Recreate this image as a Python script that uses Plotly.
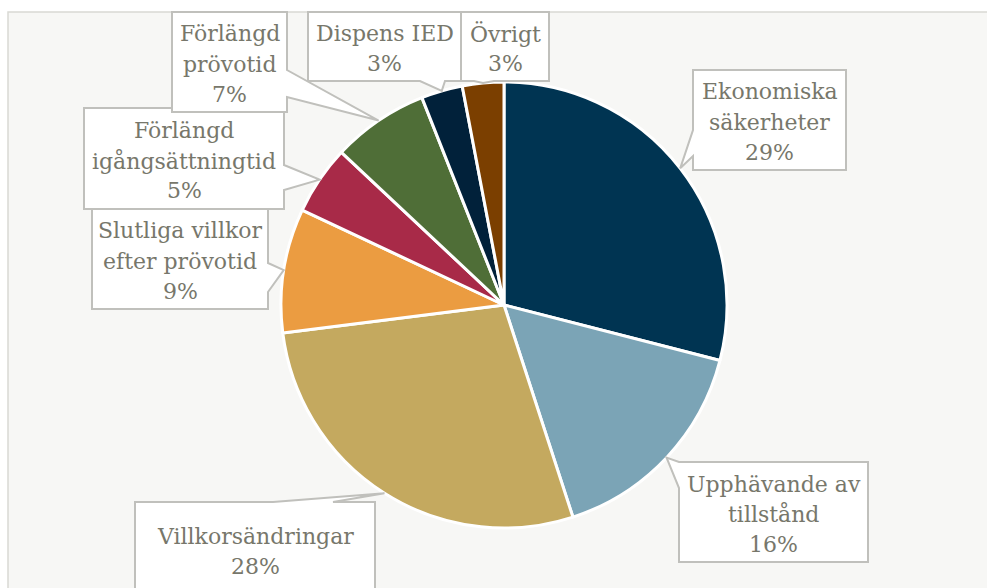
import math
import plotly.graph_objects as go

# ---- data ----
categories = [
    "Ekonomiska säkerheter",
    "Upphävande av tillstånd",
    "Villkorsändringar",
    "Slutliga villkor efter prövotid",
    "Förlängd igångsättningtid",
    "Förlängd prövotid",
    "Dispens IED",
    "Övrigt",
]
values = [29, 16, 28, 9, 5, 7, 3, 3]
label_lines = [
    ["Ekonomiska", "säkerheter"],
    ["Upphävande av", "tillstånd"],
    ["Villkorsändringar"],
    ["Slutliga villkor", "efter prövotid"],
    ["Förlängd", "igångsättningtid"],
    ["Förlängd", "prövotid"],
    ["Dispens IED"],
    ["Övrigt"],
]
colors = ["#003452", "#7ba4b6", "#c4a95f", "#eb9c41", "#a82a48", "#4f6e37", "#01213a", "#7b3f00"]

# ---- layout constants (pixels) ----
W, H = 987, 588
CX, CY, R = 504, 305, 223
# callout boxes: (x0, y0, x1, y1, side, base_a, base_b)
boxes = [
    (693, 70, 846, 170, "left", 130, 156),
    (679, 462, 868, 562, "left", 462, 488),
    (135, 502, 375, 610, "top", 273, 333),
    (92, 209, 268, 309, "right", 263, 292),
    (84, 108, 284, 209, "right", 165, 190),
    (172, 12, 287, 112, "right", 70, 97),
    (308, 12, 461, 81, "bottom", 420, 445),
    (461, 12, 549, 81, "bottom", 474, 494),
]
FONT = "DejaVu Serif"
TXT = "#77776b"
LINE_H = 30
TEXT_DY = 2


def px(x):
    return x / W


def py(y):
    return 1 - y / H


fig = go.Figure()
fig.add_trace(go.Pie(
    labels=categories, values=values, sort=False, direction="clockwise",
    rotation=0, marker=dict(colors=colors, line=dict(color="white", width=3)),
    textinfo="none", hoverinfo="label+percent", showlegend=False,
    domain=dict(x=[px(CX - R), px(CX + R)], y=[py(CY + R), py(CY - R)]),
))

shapes = [dict(type="rect", xref="paper", yref="paper", x0=px(8), x1=px(W + 5),
               y0=py(H + 5), y1=py(12), fillcolor="#f7f7f5",
               line=dict(color="#d9d9d4", width=1.5), layer="below")]
annotations = []

total = sum(values)
cum = 0
for i, v in enumerate(values):
    mid = (cum + v / 2) / total * 2 * math.pi
    cum += v
    tx = CX + R * math.sin(mid)
    ty = CY - R * math.cos(mid)
    x0, y0, x1, y1, side, a, b = boxes[i]
    if side == "left":
        pts = [(x0, y0), (x1, y0), (x1, y1), (x0, y1), (x0, b), (tx, ty), (x0, a)]
    elif side == "right":
        pts = [(x0, y0), (x1, y0), (x1, a), (tx, ty), (x1, b), (x1, y1), (x0, y1)]
    elif side == "top":
        pts = [(x0, y0), (a, y0), (tx, ty), (b, y0), (x1, y0), (x1, y1), (x0, y1)]
    else:  # bottom
        pts = [(x0, y0), (x1, y0), (x1, y1), (b, y1), (tx, ty), (a, y1), (x0, y1)]
    path = "M " + " L ".join(f"{px(p[0]):.5f},{py(p[1]):.5f}" for p in pts) + " Z"
    shapes.append(dict(type="path", xref="paper", yref="paper", path=path,
                       fillcolor="white", line=dict(color="#c0c0bc", width=2),
                       layer="above"))
    lines = label_lines[i] + [f"{round(v / total * 100)}%"]
    bcx = (x0 + x1) / 2
    bcy = (y0 + y1) / 2 if y1 <= H else y0 + 47
    n = len(lines)
    for k, t in enumerate(lines):
        ly = bcy + (k - (n - 1) / 2) * LINE_H + TEXT_DY
        annotations.append(dict(xref="paper", yref="paper", x=px(bcx), y=py(ly),
                                text=t, showarrow=False, xanchor="center",
                                yanchor="middle",
                                font=dict(family=FONT, size=22, color=TXT)))

fig.update_layout(width=W, height=H, margin=dict(l=0, r=0, t=0, b=0),
                  paper_bgcolor="white", plot_bgcolor="white",
                  shapes=shapes, annotations=annotations)
fig.write_html("out.html", config={"displayModeBar": False},
               post_script="document.body.style.margin='0';document.body.style.overflow='hidden';")
